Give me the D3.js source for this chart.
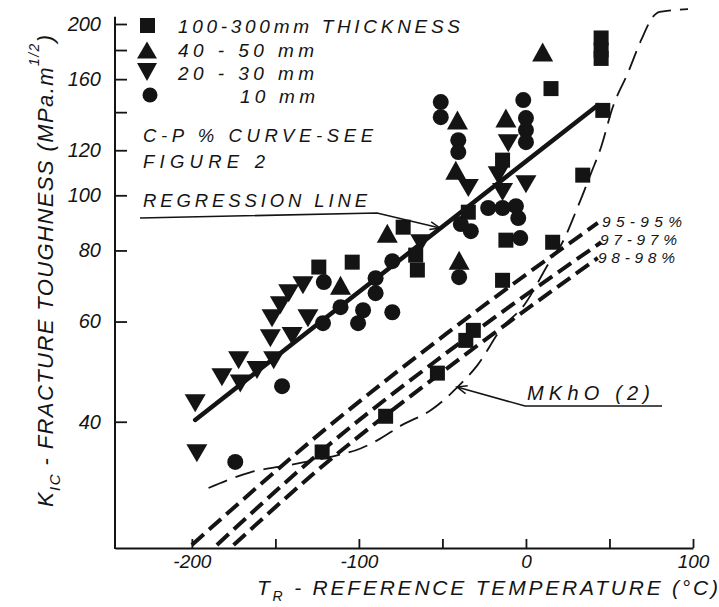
<!DOCTYPE html>
<html><head><meta charset="utf-8">
<script src="https://cdn.jsdelivr.net/npm/d3@7"></script>
<style>
html,body{margin:0;padding:0;background:#fff;}
svg{display:block;}
text{font-family:"Liberation Sans",Arial,sans-serif;font-style:italic;fill:#141414;}
</style></head><body>
<svg id="chart" width="719" height="607"></svg>
<script>
// ---- data (temperature °C, K_IC MPa·m^1/2) ----
const squares = [[-124,74.8],[-104,76.3],[-73.5,87.9],[-66,78.5],[-65,73.9],[-34.5,93.4],[-14,115.3],[-12,83.4],[-14,70.9],[15,154],[16,82.7],[34,108.5],[46,141],[45,189],[45,180],[45,174],[-122,35.4],[-84,40.9],[-53,48.7],[-36,55.6],[-31.5,57.9]];
const triUp = [[-111,69.5],[-83,85.8],[-41,135.6],[-42,110.7],[-40,76.9],[-12,136.7],[10,178.5]];
const triDown = [[-133.5,69.5],[-142,67.3],[-147,64.1],[-152,60.8],[-153,56.1],[-151,51.3],[-161,49.3],[-172,51.3],[-182,47.9],[-171,46.7],[-198,43.1],[-130.5,60.8],[-140,56.6],[-197,35.2],[-34.5,103],[-10.6,123.5],[-16.6,108.5],[-14,101.3],[0,104.6],[-63,82.4]];
const circles = [[-121,70.4],[-111,63.6],[-97.5,62.8],[-100.5,59.6],[-90,67.3],[-146,46.2],[-121.5,59.6],[-51,145.8],[-51,137.2],[-40.5,125],[-40.5,119.1],[-1.6,147],[0,136.7],[0,130.2],[0,124],[-22.6,95],[-14,95],[-6,95.7],[-4.6,91.2],[-39,89],[-33,86.5],[-3.4,84.1],[-40,71.8],[-80,76.6],[-90,71.5],[-80,62.3],[-174,34]];
const regression = [[-198,40.3],[43,144]];
const mkhoCurve = [[-190,30.6],[-165,32.6],[-141,33.6],[-117,34.7],[-99,35.9],[-89,37.1],[-74,39.5],[-57,41.9],[-41,46],[-29,50.3],[-14,58.7],[-2,63.6],[16,77.9],[21,81.8],[31,95.4],[39,109.4],[45,121.6],[52,142.9],[61,164],[69,187.5],[76,205.8],[80,210],[97,212.4]];
const band95 = [[-200,24.3],[-123,38.2],[-47,57.3],[43,89.4]];
const band97 = [[-185,24.3],[-123,35.4],[-47,53.0],[45,82.7]];
const band98 = [[-175,24.3],[-123,33.2],[-47,49.7],[43,77.6]];
const xTicks = [-200,-150,-100,-50,0,50,100];
const xTickLabels = [-200,-100,0,100];
const yTicks = [40,60,80,100,120,140,160,180,200];
const yTickLabels = [40,60,80,100,120,160,200];
const legendLabels = ["100-300mm THICKNESS","40 - 50 mm","20 - 30 mm","10 mm"];
const bandLabels = ["95-95%","97-97%","98-98%"];

const ink = "#141414";
const svg = d3.select("#chart");
const x = d3.scaleLinear().domain([-246,100]).range([115,693]);
const y = d3.scaleLog().domain([24,200]).range([548,24]);

const defs = svg.append("defs");
defs.append("marker").attr("id","arr").attr("markerUnits","userSpaceOnUse")
  .attr("viewBox","-12 -6 14 12").attr("refX",0).attr("refY",0)
  .attr("markerWidth",14).attr("markerHeight",12).attr("orient","auto")
  .append("path").attr("d","M-10,-4L0,0L-10,4").attr("fill","none").attr("stroke",ink).attr("stroke-width",1.5);

// ---- axes ----
const gx = svg.append("g").attr("transform","translate(0,548)")
  .call(d3.axisBottom(x).tickValues(xTicks).tickSize(-9).tickPadding(7).tickSizeOuter(0)
    .tickFormat(d => xTickLabels.includes(d) ? String(d) : ""));
gx.select(".domain").attr("stroke",ink).attr("stroke-width",2);
gx.selectAll(".tick line").attr("stroke",ink).attr("stroke-width",1.8);
gx.selectAll(".tick text").attr("font-size",19).attr("fill",ink)
  .attr("font-family","'Liberation Sans',Arial,sans-serif").attr("font-style","italic");

const gy = svg.append("g").attr("transform","translate(115,0)")
  .call(d3.axisLeft(y).tickValues(yTicks).tickSize(-12).tickPadding(14).tickSizeOuter(0)
    .tickFormat(d => yTickLabels.includes(d) ? String(d) : ""));
gy.select(".domain").remove();
gy.selectAll(".tick line").attr("stroke",ink).attr("stroke-width",1.8);
gy.selectAll(".tick text").attr("font-size",20).attr("fill",ink)
  .attr("font-family","'Liberation Sans',Arial,sans-serif").attr("font-style","italic");
svg.append("line").attr("x1",x(-246)).attr("x2",x(-246)).attr("y1",y(24)+1).attr("y2",y(206))
  .attr("stroke",ink).attr("stroke-width",2);

// ---- axis titles ----
const xt = svg.append("text").attr("x",257).attr("y",595).attr("font-size",21)
  .attr("textLength",461).attr("lengthAdjust","spacing");
xt.append("tspan").text("T");
xt.append("tspan").attr("font-size",14).attr("dy",6).text("R");
xt.append("tspan").attr("dy",-6).text(" - REFERENCE  TEMPERATURE (°C)");

const yt = svg.append("text").attr("transform","translate(53,271) rotate(-90)")
  .attr("text-anchor","middle").attr("font-size",22)
  .attr("textLength",472).attr("lengthAdjust","spacing");
yt.append("tspan").text("K");
yt.append("tspan").attr("font-size",15).attr("dy",7).text("IC");
yt.append("tspan").attr("dy",-7).text(" - FRACTURE  TOUGHNESS (MPa.m");
yt.append("tspan").attr("font-size",14).attr("dy",-14).text("1/2");
yt.append("tspan").attr("dy",14).text(")");

// ---- lines ----
const line = d3.line().x(d => x(d[0])).y(d => y(d[1]));
const smooth = d3.line().x(d => x(d[0])).y(d => y(d[1])).curve(d3.curveMonotoneX);

[band95, band97, band98].forEach(b => {
  svg.append("path").attr("d", smooth(b)).attr("fill","none").attr("stroke",ink)
    .attr("stroke-width",4).attr("stroke-dasharray","16,7");
});
svg.append("path").attr("d", smooth(mkhoCurve)).attr("fill","none").attr("stroke",ink)
  .attr("stroke-width",1.8).attr("stroke-dasharray","20,9");
svg.append("path").attr("d", line(regression)).attr("fill","none").attr("stroke",ink)
  .attr("stroke-width",4.5).attr("stroke-linecap","round");

// ---- markers ----
function triPath(w,h,up){ const a = up ? -h/2 : h/2, b = up ? h/2 : -h/2; return `M0,${a}L${w/2},${b}L${-w/2},${b}Z`; }
const g = svg.append("g").attr("fill",ink);
g.selectAll(".sq").data(squares).join("rect").attr("class","sq")
  .attr("x",d => x(d[0])-7.5).attr("y",d => y(d[1])-7.5).attr("width",15).attr("height",15);
g.selectAll(".tu").data(triUp).join("path").attr("class","tu").attr("d",triPath(21,19,true))
  .attr("transform",d => `translate(${x(d[0])},${y(d[1])})`);
g.selectAll(".td").data(triDown).join("path").attr("class","td").attr("d",triPath(21,18,false))
  .attr("transform",d => `translate(${x(d[0])},${y(d[1])})`);
g.selectAll(".ci").data(circles).join("circle").attr("class","ci")
  .attr("cx",d => x(d[0])).attr("cy",d => y(d[1])).attr("r",8);

// ---- legend ----
const lg = svg.append("g").attr("fill",ink);
lg.append("rect").attr("x",140).attr("y",18).attr("width",15).attr("height",15);
lg.append("path").attr("d",triPath(20,17,true)).attr("transform","translate(147,50)");
lg.append("path").attr("d",triPath(20,18,false)).attr("transform","translate(147,72)");
lg.append("circle").attr("cx",150).attr("cy",95).attr("r",7.5);
const legPos = [[178,33,282],[178,57,136],[178,80,136],[240,103,75]];
legendLabels.forEach((t,i) => {
  svg.append("text").attr("x",legPos[i][0]).attr("y",legPos[i][1]).attr("font-size",19)
    .attr("textLength",legPos[i][2]).attr("lengthAdjust","spacing").text(t);
});

// ---- annotations ----
function label(t,xx,yy,len,fs){ svg.append("text").attr("x",xx).attr("y",yy).attr("font-size",fs)
  .attr("textLength",len).attr("lengthAdjust","spacing").text(t); }
label("C-P % CURVE-SEE",143,142,230,18.5);
label("FIGURE 2",143,168,122,18.5);
label("REGRESSION LINE",143,207,224,18.5);
svg.append("path").attr("d","M140,218L377,213L440,228").attr("fill","none")
  .attr("stroke",ink).attr("stroke-width",1.6).attr("marker-end","url(#arr)");
const bandPos = [[602,227,80],[600,245,77],[598,263,77]];
bandLabels.forEach((t,i) => label(t,bandPos[i][0],bandPos[i][1],bandPos[i][2],15.5));
label("MKhO (2)",527,400,123,20);
svg.append("path").attr("d","M662,406L525,406L457,387").attr("fill","none")
  .attr("stroke",ink).attr("stroke-width",1.6).attr("marker-end","url(#arr)");
</script>
</body></html>
